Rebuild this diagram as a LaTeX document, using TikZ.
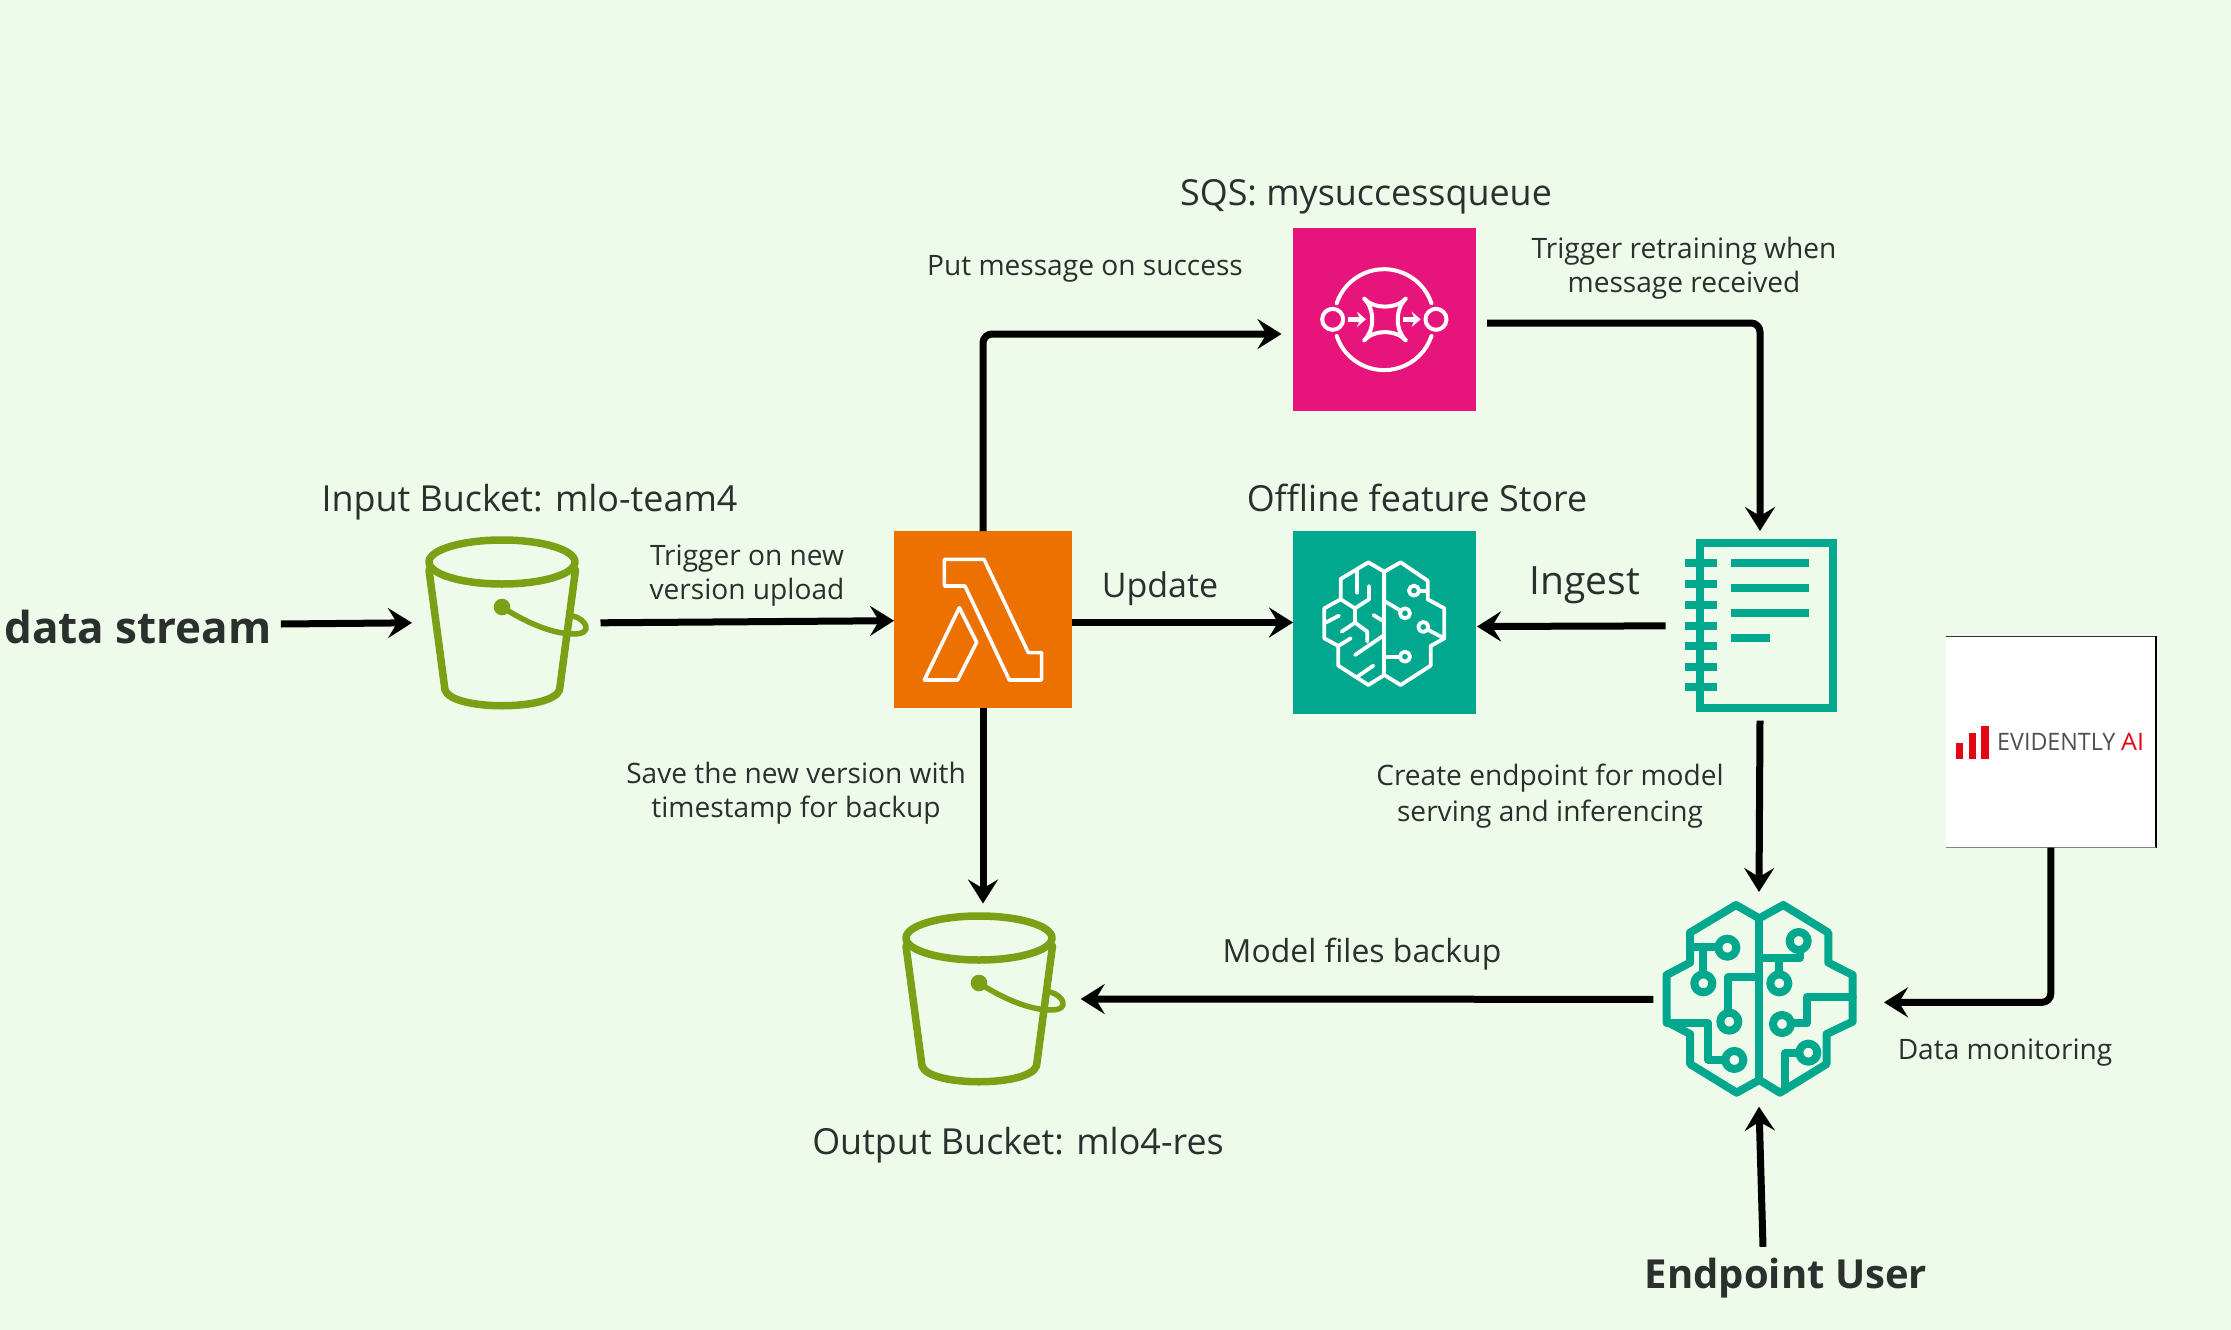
\documentclass[tikz,border=0pt]{standalone}
\usepackage{fontspec}
\setmainfont{Open Sans}
\usepackage{tikz}
\usetikzlibrary{arrows.meta, positioning}
\definecolor{bgmint}{HTML}{EEFAEA}
\definecolor{inktext}{HTML}{2B2F2E}
\definecolor{bucketgreen}{HTML}{7AA116}
\definecolor{lambdaorange}{HTML}{ED7100}
\definecolor{sqspink}{HTML}{E7157B}
\definecolor{mlteal}{HTML}{01A88D}
\definecolor{evired}{HTML}{E30613}
\definecolor{evigrey}{HTML}{4D4F53}
\tikzstyle{basefont}=[text=inktext, align=center, inner sep=0pt]
\tikzstyle{bigcaption}=[basefont, font=\fontsize{28.1}{33.5}\selectfont]
\tikzstyle{midcaption}=[basefont, font=\fontsize{35.9}{42}\selectfont]
\tikzstyle{heavycaption}=[basefont, font=\bfseries\fontsize{44}{52}\selectfont]
\tikzstyle{tile}=[inner sep=0pt, outer sep=0pt]
\tikzstyle{iconspot}=[inner sep=0pt, outer sep=0pt]
\tikzstyle{arrow}=[line width=7pt, rounded corners=9pt, -{Stealth[length=24pt, width=30pt, inset=9pt]}]
\tikzstyle{glyph}=[line join=round, line cap=round]
% coordinates of an icon are given in thirds of a pixel
\tikzstyle{thirds}=[x=0.3333pt, y=-0.3333pt]
\newcommand*{\bucketicon}[2]{%
	\begin{scope}[shift={(#1,#2)}, bucketgreen, glyph]
		\draw[line width=7.5pt] (0,-60) ellipse[x radius=73pt, y radius=22pt];
		\draw[line width=7.5pt] (-73,-52) -- (-57,68) .. controls (-50,89) and (50,89) .. (57.5,68) -- (73.5,-52);
		\fill (0,-15) circle[radius=8.3pt];
		\draw[line width=5.5pt] (0,-15) .. controls (20,-2) and (48,12) .. (72,12)
			.. controls (92,12) and (84,-3) .. (71,-6);
	\end{scope}
}
\begin{document}
\begin{tikzpicture}[x=1pt, y=-1pt]
	\fill[bgmint] (0,0) rectangle (2231,1330);
	\useasboundingbox (0,0) rectangle (2231,1330);

	% Coloured tiles
	\node[tile, fill=lambdaorange, minimum width=178pt, minimum height=177pt] (lambda) at (983,619.5) {};
	\node[tile, fill=sqspink, minimum width=183pt, minimum height=183pt] (sqs) at (1384.5,319.5) {};
	\node[tile, fill=mlteal, minimum width=183pt, minimum height=183pt] (featurestore) at (1384.5,622.5) {};
	\node[tile, fill=white, minimum width=209.7pt, minimum height=211.4pt] (evidently) at (2050.85,742) {};

	% Spots that the connectors run to
	\node[iconspot, minimum width=188.5pt, minimum height=173pt] (bucketin) at (506.25,622.8) {};
	\node[iconspot, minimum width=195.4pt, minimum height=191pt] (bucketout) at (983,999) {};
	\node[iconspot, minimum width=188.6pt, minimum height=189.7pt] (notebook) at (1760,625.85) {};
	\node[iconspot, minimum width=211.4pt, minimum height=214.7pt] (modelbrain) at (1759,999.35) {};

	% Icons
	\bucketicon{502}{622}
	\bucketicon{979}{998}

	% Lambda
	\begin{scope}[shift={(880,520)}, thirds, white, glyph, line width=3.6pt]
		\draw (193,118) -- (312,118) -- (445,398) -- (485,398) -- (485,480) -- (388,480) -- (255,198) -- (193,198) -- cycle;
		\draw (238,263) -- (290,367) -- (233,480) -- (133,480) -- cycle;
	\end{scope}

	% Queue
	\begin{scope}[shift={(1270,210)}, thirds, white, glyph, line width=4pt]
		\draw (200,280) arc[start angle=161.5, end angle=18.5, radius=50pt];
		\draw (200,378) arc[start angle=198.5, end angle=341.5, radius=50pt];
		\draw (188,328) circle[radius=10.5pt];
		\draw (498,328) circle[radius=10.5pt];
		\draw (282,265) .. controls (310,298) and (380,298) .. (408,265)
			.. controls (375,298) and (375,360) .. (408,392)
			.. controls (380,358) and (310,358) .. (282,392)
			.. controls (315,360) and (315,298) .. (282,265) -- cycle;
		\foreach \tipx in {288,452}{
			\draw[line width=5pt, line cap=butt] (\tipx-53,328) -- (\tipx-15,328);
			\fill (\tipx-27,305) -- (\tipx,328) -- (\tipx-27,351) -- (\tipx-18,328) -- cycle;
		}
	\end{scope}

	% Feature store brain
	\begin{scope}[shift={(1270,520)}, thirds, white, glyph, line width=3.8pt]
		\draw (343,155) -- (295,127) -- (212,177) -- (212,238) -- (163,265) -- (163,355) -- (205,378) -- (205,437)
			-- (295,495) -- (343,465) -- (392,495) -- (482,437) -- (482,378) -- (523,355) -- (523,265) -- (473,238)
			-- (473,182) -- (392,127) -- cycle;
		\draw (343,155) -- (343,465);
		\draw (343,155) -- (343,243) -- (392,272);
		\draw (405,280) circle[radius=5pt];
		\draw (432,212) circle[radius=5pt];
		\draw (447,212) -- (473,212);
		\draw (460,321) circle[radius=5pt];
		\draw (475,330) -- (523,355);
		\draw (405,410) circle[radius=5pt];
		\draw (343,410) -- (390,410);
		\draw (262,155) -- (262,218);
		\draw (297,198) -- (297,238) -- (255,265) -- (212,238);
		\draw (255,265) -- (255,308) -- (292,335) -- (292,365);
		\draw (163,310) -- (207,287);
		\draw (215,335) -- (255,308);
		\draw (205,378) -- (242,355);
		\draw (255,405) -- (343,345);
		\draw (310,285) -- (343,305);
		\draw (265,468) -- (310,437);
	\end{scope}

	% Notebook
	\begin{scope}[shift={(1660,520)}, thirds, mlteal]
		\draw[line width=8pt] (120,68) rectangle (518,564);
		\foreach \ticky in {130,192,254,317,378,440,502}{
			\draw[line width=8pt] (75,\ticky) -- (170,\ticky);
		}
		\foreach \ruley/\ruleend in {130/447,205/447,280/447,355/331}{
			\draw[line width=8pt] (214,\ruley) -- (\ruleend,\ruley);
		}
	\end{scope}

	% Model brain
	\begin{scope}[shift={(1640,880)}, thirds, mlteal, glyph, line width=8pt]
		\draw (358,115) -- (288,75) -- (150,158) -- (150,248) -- (80,285) -- (80,425) -- (150,462) -- (150,552)
			-- (290,638) -- (358,600) -- (420,638) -- (560,552) -- (560,462) -- (638,425) -- (638,285) -- (565,248)
			-- (565,158) -- (430,75) -- cycle;
		\draw (358,115) -- (358,600);
		\foreach \hubx/\huby in {262/203,190/310,268/425,283/540,476/183,418/310,426/432,505/518}{
			\draw (\hubx,\huby) circle[radius=9pt];
		}
		\draw (150,200) -- (235,200);
		\draw (190,200) -- (190,283);
		\draw (358,292) -- (265,292) -- (265,397);
		\draw (80,430) -- (205,430) -- (205,540) -- (255,540);
		\draw (358,235) -- (480,235) -- (480,210);
		\draw (418,235) -- (418,283);
		\draw (638,350) -- (500,350) -- (500,430) -- (453,430);
		\draw (477,520) -- (435,520) -- (435,630);
	\end{scope}

	% Evidently logo
	\draw[line width=1pt, black!80] (evidently.north west) -- (evidently.north east);
	\draw[line width=2.4pt, black] (evidently.north east) -- (evidently.south east);
	\draw[line width=0.8pt, black!50] (evidently.south west) -- (evidently.south east);
	\begin{scope}[shift={(1660,520)}, thirds, evired]
		\fill (888,668) rectangle (910,716);
		\fill (927,640) rectangle (948,716);
		\fill (964,617) rectangle (986,716);
	\end{scope}
	\node[basefont, text=evigrey, anchor=west, font=\fontsize{24}{28}\selectfont] (evilogo) at (1997,742) {\scalebox{0.97}[1]{EVIDENTLY}};
	\node[basefont, text=evired, anchor=west, font=\fontsize{24}{28}\selectfont] (evilogoai) at (2121,742) {\scalebox{1.05}[1]{AI}};

	% Captions
	\node[heavycaption] (datastream) at (138,627) {data stream};
	\node[heavycaption, font=\bfseries\fontsize{40}{48}\selectfont] (endpointuser) at (1786,1278) {Endpoint User};
	\node[midcaption] (inputname) at (529.5,502) {Input Bucket: mlo-team4};
	\node[midcaption] (outputname) at (1018,1145) {Output Bucket: mlo4-res};
	\node[midcaption] (sqsname) at (1366,197) {SQS: mysuccessqueue};
	\node[midcaption] (storename) at (1417,498) {Offline feature Store};
	\node[midcaption, font=\fontsize{39}{46}\selectfont] (ingestname) at (1585,585) {Ingest};
	\node[midcaption, font=\fontsize{34}{40}\selectfont] (updatename) at (1160,589) {Update};
	\node[bigcaption] (triggernew) at (747,575.5) {Trigger on new\\version upload};
	\node[bigcaption] (putmessage) at (1085,269) {Put message on success};
	\node[bigcaption] (triggerretrain) at (1684,268) {Trigger retraining when\\message received};
	\node[bigcaption] (savenew) at (796,793) {Save the new version with\\timestamp for backup};
	\node[bigcaption] (createendpoint) at (1550,796) {Create endpoint for model\\[3pt]serving and inferencing};
	\node[bigcaption, font=\fontsize{31.9}{38}\selectfont] (modelfiles) at (1362,954) {Model files backup};
	\node[bigcaption] (datamonitoring) at (2005,1053) {Data monitoring};

	% Connectors
	\draw[arrow] ([shift={(9pt,3pt)}]datastream.east) -- (bucketin.west);
	\draw[arrow] (bucketin.east) -- ([yshift=-1.2pt]lambda.west);
	\draw[arrow] (lambda.north) |- ([shift={(-11.5pt,-14.5pt)}]sqs.west);
	\draw[arrow] (lambda.east |- featurestore.west) -- (featurestore.west);
	\draw[arrow] (lambda.south) -- (bucketout.north);
	\draw[arrow] ([shift={(11pt,-3.5pt)}]sqs.east) -| (notebook.north);
	\draw[arrow] (notebook.west) -- ([shift={(1pt,-4pt)}]featurestore.east);
	\draw[arrow] (notebook.south) -- (modelbrain.north);
	\draw[arrow] (modelbrain.west) -- (bucketout.east);
	\draw[arrow] (evidently.south) |- ([shift={(19.3pt,-3pt)}]modelbrain.east);
	\draw[arrow] ([xshift=-23pt, yshift=11pt]endpointuser.north) -- (modelbrain.south);
\end{tikzpicture}
\end{document}
